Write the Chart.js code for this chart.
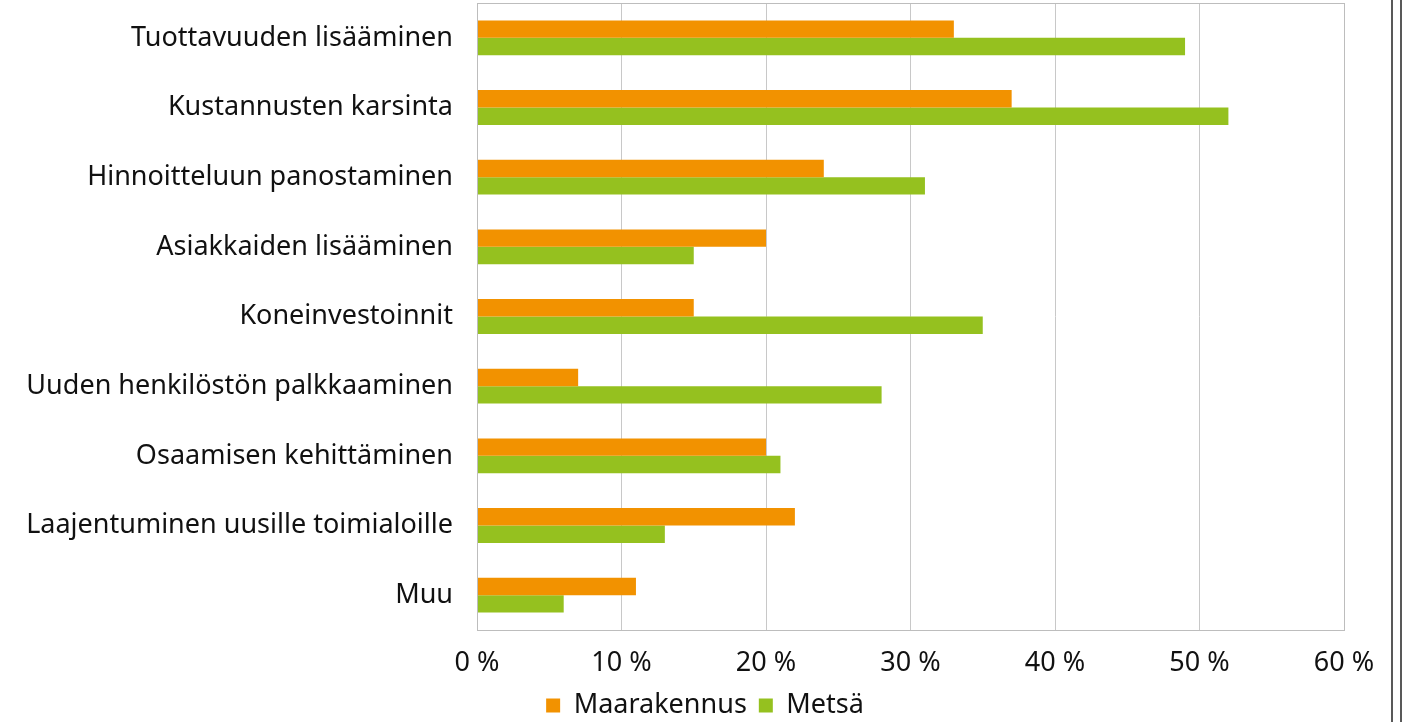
<!DOCTYPE html>
<html lang="fi">
<head>
  <meta charset="UTF-8" />
  <title>Toimenpiteet</title>
  <script src="https://cdn.jsdelivr.net/npm/chart.js"></script>
  <style>
    html, body { margin: 0; padding: 0; background: #fff; overflow: hidden; }
    #wrap { width: 1410px; height: 722px; position: relative; }
    canvas { display: block; }
  </style>
</head>
<body>
  <div id="wrap"><canvas id="myChart"></canvas></div>

  <script>
    const categories = [
      'Tuottavuuden lisääminen',
      'Kustannusten karsinta',
      'Hinnoitteluun panostaminen',
      'Asiakkaiden lisääminen',
      'Koneinvestoinnit',
      'Uuden henkilöstön palkkaaminen',
      'Osaamisen kehittäminen',
      'Laajentuminen uusille toimialoille',
      'Muu'
    ];
    const maarakennus = [33, 37, 24, 20, 15, 7, 20, 22, 11];
    const metsa = [49, 52, 31, 15, 35, 28, 21, 13, 6];
    const xTicks = [0, 10, 20, 30, 40, 50, 60];

    const FONT = '"Noto Sans", sans-serif';

    // kehys piirtoalueen ympärille + pystyviivat oikeaan reunaan
    const frame = {
      id: 'frame',
      afterLayout(chart) {
        // selite keskelle koko kuvaa, ei vain piirtoaluetta
        if (chart.legend) chart.legend.right += 66;
      },
      afterDatasetsDraw(chart) {
        const { ctx, chartArea: a } = chart;
        ctx.save();
        ctx.strokeStyle = '#bdbdbd';
        ctx.lineWidth = 1;
        ctx.strokeRect(a.left + 0.5, a.top + 0.5, a.right - a.left, a.bottom - a.top);
        ctx.strokeStyle = '#222';
        ctx.lineWidth = 1.5;
        [1392, 1401].forEach(x => {
          ctx.beginPath();
          ctx.moveTo(x, 0);
          ctx.lineTo(x, chart.height);
          ctx.stroke();
        });
        ctx.restore();
      }
    };

    new Chart(document.getElementById('myChart'), {
      type: 'bar',
      data: {
        labels: categories,
        datasets: [
          { label: 'Maarakennus', data: maarakennus, backgroundColor: '#f29200' },
          { label: 'Metsä', data: metsa, backgroundColor: '#95c11f' }
        ]
      },
      options: {
        indexAxis: 'y',
        responsive: true,
        maintainAspectRatio: false,
        animation: false,
        datasets: { bar: { categoryPercentage: 0.5, barPercentage: 1.0 } },
        layout: { padding: { top: 3, right: 66, left: 0, bottom: 0 } },
        scales: {
          x: {
            min: 0, max: 60,
            afterBuildTicks(scale) { scale.ticks = xTicks.map(v => ({ value: v })); },
            afterFit(scale) { scale.height = 50; },
            border: { display: false },
            grid: { color: '#c8c8c8', drawTicks: false },
            ticks: {
              color: '#111', padding: 17,
              font: { family: FONT, size: 27 },
              callback: v => v + ' %'
            }
          },
          y: {
            afterFit(scale) {
              scale.width = 477;
              scale.paddingTop = 0;
              scale.paddingBottom = 0;
            },
            border: { display: false },
            grid: { display: false },
            ticks: {
              color: '#111', padding: 16,
              font: { family: FONT, size: 27 }
            }
          }
        },
        plugins: {
          tooltip: { enabled: false },
          legend: {
            position: 'bottom',
            maxHeight: 42,
            labels: {
              color: '#111',
              boxWidth: 14, boxHeight: 14,
              padding: 12,
              font: { family: FONT, size: 27 }
            }
          }
        }
      },
      plugins: [frame]
    });
  </script>
</body>
</html>
